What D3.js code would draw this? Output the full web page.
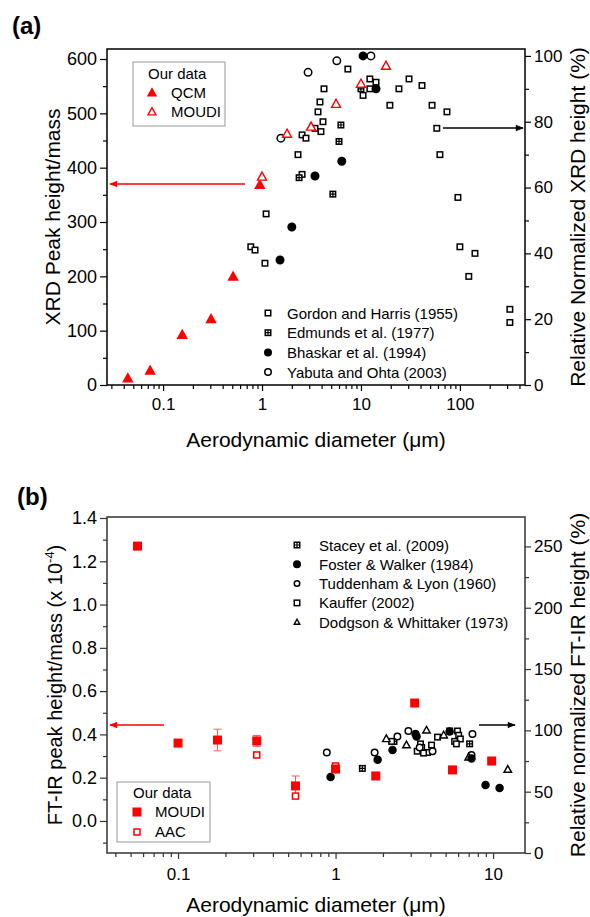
<!DOCTYPE html>
<html>
<head>
<meta charset="utf-8">
<script src="https://cdn.jsdelivr.net/npm/d3@7"></script>
<style>
body { margin: 0; background: #fff; }
text { font-family: Arial, "Liberation Sans", sans-serif; }
</style>
</head>
<body>
<div id="chart"></div>
<script>
// ---- panel (a) data: XRD ----
var qcmX = [0.044, 0.074, 0.156, 0.305, 0.51, 0.95];
var qcmY = [12, 26, 92, 121, 199, 368];
var moudiAX = [1.0, 1.79, 3.13, 5.6, 10, 17.9];
var moudiAY = [383, 462, 475, 517, 554, 587];

var gordon = [[1.10,52],[0.77,42],[0.85,41],[1.07,37],[2.31,70],[2.54,64],[2.54,76],[2.78,75],
  [3.43,78],[3.94,77],[4.13,80],[3.68,83],[3.85,86],[4.23,90],[7.37,96],[12.3,93],[14.2,92],
  [12.3,90],[10.5,88],[19.6,85],[24.2,90],[30.6,93],[41.4,91],[52.3,85],[74,83],[58.4,78],
  [62.8,70],[95.5,57],[100,42],[142,40],[123,33],[320,23],[320,19]];
var edmunds = [[2.37,63],[6.27,79],[6.0,74],[10,90],[5.2,58]];
var bhaskar = [[2.0,48],[1.52,38],[3.43,63.5],[6.4,68],[14.2,90],[10.5,100]];
var yabuta = [[1.55,75],[2.92,95],[5.7,98.5],[12.6,100]];

// ---- panel (b) data: FT-IR ----
var moudiBX = [0.0553, 0.1, 0.178, 0.316, 0.557, 1.0, 1.8, 3.18, 5.53, 9.8];
var moudiBY = [1.27, 0.36, 0.374, 0.37, 0.162, 0.24, 0.208, 0.545, 0.236, 0.277];
var moudiBErr = [0, 0, 0.05, 0.025, 0.046, 0, 0, 0, 0, 0];
var aacX = [0.316, 0.557, 1.0];
var aacY = [0.305, 0.115, 0.254];

var stacey = [[1.48,69],[2.35,91],[7.1,89]];
var foster = [[0.93,62],[1.85,76],[2.3,84],[3.27,95],[3.22,97],[5.3,99],[7.3,77],[8.96,55.5],[11.0,53]];
var tuddenham = [[0.88,82],[1.77,82],[2.47,95],[2.9,99.5],[4.13,83],[7.4,97],[7.3,80],[3.42,86]];
var kauffer = [[3.46,89],[3.52,86],[3.84,82],[4.07,88],[4.44,94.5],[5.3,99.5],[5.95,99.5],[6.05,96],
  [5.7,91],[6.2,93],[5.85,89],[3.3,83],[3.62,81.5],[2.27,91]];
var dodgson = [[2.1,93],[2.82,88],[3.78,100],[4.86,96],[7.0,78],[12.4,68]];

var ticksA = { left: [0,100,200,300,400,500,600], right: [0,20,40,60,80,100], x: [0.1,1,10,100] };
var ticksB = { left: [0,0.2,0.4,0.6,0.8,1.0,1.2,1.4], right: [0,50,100,150,200,250], x: [0.1,1,10] };

var red = '#ff0000';

var svg = d3.select('#chart').append('svg')
    .attr('width', 590)
    .attr('height', 917);

var defs = svg.append('defs');
function arrowDef(id, col) {
    defs.append('marker')
        .attr('id', id)
        .attr('viewBox', '0 0 10 10')
        .attr('refX', 9).attr('refY', 5)
        .attr('markerWidth', 10).attr('markerHeight', 8)
        .attr('markerUnits', 'userSpaceOnUse')
        .attr('orient', 'auto')
        .append('path').attr('d', 'M0,1 L10,5 L0,9 Z').attr('fill', col);
}
arrowDef('arRed', red);
arrowDef('arBlack', '#000');

function minorLog(domain) {
    var out = [];
    for (var k = -3; k <= 3; k++) {
        for (var m = 2; m <= 9; m++) {
            var v = m * Math.pow(10, k);
            if (v > domain[0] && v < domain[1]) out.push(v);
        }
    }
    return out;
}

function marker(g, type, x, y, col, size) {
    var s = size;
    if (type == 'square' || type == 'squareFill' || type == 'squareCross') {
        g.append('rect')
            .attr('x', x - s / 2).attr('y', y - s / 2)
            .attr('width', s).attr('height', s)
            .attr('fill', type == 'squareFill' ? col : '#fff')
            .attr('stroke', col).attr('stroke-width', 1.5);
        if (type == 'squareCross') {
            g.append('path')
                .attr('d', `M${x - s / 2},${y}H${x + s / 2}M${x},${y - s / 2}V${y + s / 2}`)
                .attr('stroke', col).attr('stroke-width', 1.2);
        }
    } else if (type == 'circle' || type == 'circleFill') {
        g.append('circle')
            .attr('cx', x).attr('cy', y).attr('r', s / 2)
            .attr('fill', type == 'circleFill' ? col : '#fff')
            .attr('stroke', col).attr('stroke-width', 1.5);
    } else if (type == 'tri' || type == 'triFill') {
        var h = s * 0.9;
        g.append('path')
            .attr('d', `M${x},${y - h * 0.6}L${x + s / 2},${y + h * 0.4}L${x - s / 2},${y + h * 0.4}Z`)
            .attr('fill', type == 'triFill' ? col : '#fff')
            .attr('stroke', col).attr('stroke-width', 1.4);
    }
}

function drawAxes(p) {
    var g = svg.append('g').attr('class', 'axes');
    var bottom = p.y0, top = p.y1, left = p.x0, right = p.x1;

    // left axis
    g.append('g').attr('transform', `translate(${left},0)`)
        .call(d3.axisLeft(p.yL).tickValues(p.ticks.left).tickFormat(p.fmtL).tickSize(7).tickPadding(3).tickSizeOuter(0))
        .call(a => a.selectAll('text').style('font-size', p.fsL + 'px'));
    g.append('g').attr('transform', `translate(${left},0)`)
        .call(d3.axisLeft(p.yL).tickValues(p.minorL).tickFormat('').tickSize(4).tickSizeOuter(0));

    // right axis
    g.append('g').attr('transform', `translate(${right},0)`)
        .call(d3.axisRight(p.yR).tickValues(p.ticks.right).tickSize(6).tickPadding(3).tickSizeOuter(0))
        .call(a => a.selectAll('text').style('font-size', p.fsR + 'px'));
    g.append('g').attr('transform', `translate(${right},0)`)
        .call(d3.axisRight(p.yR).tickValues(p.minorR).tickFormat('').tickSize(4).tickSizeOuter(0));

    // bottom log axis
    g.append('g').attr('transform', `translate(0,${bottom})`)
        .call(d3.axisBottom(p.x).tickValues(p.ticks.x).tickFormat(d => String(d)).tickSize(6).tickPadding(p.padX).tickSizeOuter(0))
        .call(a => a.selectAll('text').style('font-size', p.fsX + 'px'));
    g.append('g').attr('transform', `translate(0,${bottom})`)
        .call(d3.axisBottom(p.x).tickValues(minorLog(p.x.domain())).tickFormat('').tickSize(4).tickSizeOuter(0));

    g.selectAll('.domain').remove();
    g.selectAll('line').attr('stroke', p.col).attr('stroke-width', 1.2);
    g.selectAll('text').attr('fill', '#000');

    // frame
    g.append('rect')
        .attr('x', left).attr('y', top)
        .attr('width', right - left).attr('height', bottom - top)
        .attr('fill', 'none').attr('stroke', p.col).attr('stroke-width', 1.5);
}

function yTitle(x, y, txt, fs) {
    return svg.append('text')
        .attr('transform', `translate(${x},${y}) rotate(-90)`)
        .attr('text-anchor', 'middle')
        .style('font-size', fs + 'px')
        .text(txt);
}

// =================== panel (a) ===================
var xA = d3.scaleLog().domain([0.0271, 455]).range([107, 525]);
var yAL = d3.scaleLinear().domain([0, 618.4]).range([385, 49]);
var yAR = d3.scaleLinear().domain([0, 102.1]).range([385, 49]);

drawAxes({
    x0: 107, x1: 525, y0: 385, y1: 49, x: xA, yL: yAL, yR: yAR, ticks: ticksA,
    minorL: [50,150,250,350,450,550], minorR: [10,30,50,70,90],
    fmtL: d3.format('d'), fsL: 18, fsR: 17, fsX: 17, padX: 7, col: '#000'
});

svg.append('text').attr('x', 12).attr('y', 34)
    .style('font-size', '24px').style('font-weight', 'bold').text('(a)');

yTitle(60, 217, 'XRD Peak height/mass', 21);
yTitle(585, 217, 'Relative Normalized XRD height (%)', 21);
svg.append('text').attr('x', 316).attr('y', 447).attr('text-anchor', 'middle')
    .style('font-size', '21px').text('Aerodynamic diameter (μm)');

var gA = svg.append('g');
gordon.forEach(d => marker(gA, 'square', xA(d[0]), yAR(d[1]), '#000', 5.5));
edmunds.forEach(d => marker(gA, 'squareCross', xA(d[0]), yAR(d[1]), '#000', 5.5));
bhaskar.forEach(d => marker(gA, 'circleFill', xA(d[0]), yAR(d[1]), '#000', 7.5));
yabuta.forEach(d => marker(gA, 'circle', xA(d[0]), yAR(d[1]), '#000', 7.5));
qcmX.forEach((d, i) => marker(gA, 'triFill', xA(d), yAL(qcmY[i]), red, 9));
moudiAX.forEach((d, i) => marker(gA, 'tri', xA(d), yAL(moudiAY[i]), red, 9));

// arrows
svg.append('line').attr('x1', 245).attr('x2', 110).attr('y1', 184).attr('y2', 184)
    .attr('stroke', red).attr('stroke-width', 1.3).attr('marker-end', 'url(#arRed)');
svg.append('line').attr('x1', 443).attr('x2', 523).attr('y1', 128).attr('y2', 128)
    .attr('stroke', '#000').attr('stroke-width', 1.3).attr('marker-end', 'url(#arBlack)');

// legend: our data
var lgA = svg.append('g');
lgA.append('rect').attr('x', 133).attr('y', 62).attr('width', 92).attr('height', 64)
    .attr('fill', '#fff').attr('stroke', '#999').attr('stroke-width', 1);
lgA.append('text').attr('x', 148).attr('y', 79).style('font-size', '15px').text('Our data');
marker(lgA, 'triFill', 152, 93, red, 8);
lgA.append('text').attr('x', 171).attr('y', 98).style('font-size', '15px').text('QCM');
marker(lgA, 'tri', 152, 112, red, 8);
lgA.append('text').attr('x', 171).attr('y', 117).style('font-size', '15px').text('MOUDI');

// legend: literature
var litA = [['square', 'Gordon and Harris (1955)'], ['squareCross', 'Edmunds et al. (1977)'],
    ['circleFill', 'Bhaskar et al. (1994)'], ['circle', 'Yabuta and Ohta (2003)']];
var lgA2 = svg.append('g');
litA.forEach(function (d, i) {
    var y = 313 + i * 19.7;
    marker(lgA2, d[0], 268, y, '#000', d[0].indexOf('circle') == 0 ? 6.5 : 5.5);
    lgA2.append('text').attr('x', 287).attr('y', y + 5.5).style('font-size', '15px').text(d[1]);
});

// =================== panel (b) ===================
var xB = d3.scaleLog().domain([0.0354, 15.95]).range([107, 525]);
var yBL = d3.scaleLinear().domain([-0.148, 1.4046]).range([853, 517]);
var yBR = d3.scaleLinear().domain([0, 274]).range([853, 517]);

drawAxes({
    x0: 107, x1: 525, y0: 853, y1: 517, x: xB, yL: yBL, yR: yBR, ticks: ticksB,
    minorL: [-0.1,0.1,0.3,0.5,0.7,0.9,1.1,1.3], minorR: [25,75,125,175,225],
    fmtL: d3.format('.1f'), fsL: 18, fsR: 17, fsX: 17, padX: 9, col: '#333'
});

svg.append('text').attr('x', 17).attr('y', 505)
    .style('font-size', '24px').style('font-weight', 'bold').text('(b)');

var tB = yTitle(62, 685, '', 20);
tB.append('tspan').text('FT-IR peak height/mass (x 10');
tB.append('tspan').attr('dy', -8).style('font-size', '13px').text('-4');
tB.append('tspan').attr('dy', 8).text(')');
yTitle(585, 685, 'Relative normalized FT-IR height (%)', 21);
svg.append('text').attr('x', 316).attr('y', 912).attr('text-anchor', 'middle')
    .style('font-size', '21px').text('Aerodynamic diameter (μm)');

var gB = svg.append('g');
stacey.forEach(d => marker(gB, 'squareCross', xB(d[0]), yBR(d[1]), '#000', 5.5));
kauffer.forEach(d => marker(gB, 'square', xB(d[0]), yBR(d[1]), '#000', 5.5));
tuddenham.forEach(d => marker(gB, 'circle', xB(d[0]), yBR(d[1]), '#000', 6.5));
dodgson.forEach(d => marker(gB, 'tri', xB(d[0]), yBR(d[1]), '#000', 7.5));
foster.forEach(d => marker(gB, 'circleFill', xB(d[0]), yBR(d[1]), '#000', 7));

// error bars
moudiBX.forEach(function (d, i) {
    if (!moudiBErr[i]) return;
    var x = xB(d), y1 = yBL(moudiBY[i] + moudiBErr[i]), y2 = yBL(moudiBY[i] - moudiBErr[i]);
    gB.append('path')
        .attr('d', `M${x},${y1}V${y2}M${x - 4},${y1}H${x + 4}M${x - 4},${y2}H${x + 4}`)
        .attr('stroke', '#ff5a5a').attr('stroke-width', 1).attr('fill', 'none');
});
aacX.forEach((d, i) => marker(gB, 'square', xB(d), yBL(aacY[i]), red, 6));
moudiBX.forEach((d, i) => marker(gB, 'squareFill', xB(d), yBL(moudiBY[i]), red, 7.5));

// arrows
svg.append('line').attr('x1', 164).attr('x2', 110).attr('y1', 725).attr('y2', 725)
    .attr('stroke', red).attr('stroke-width', 1.3).attr('marker-end', 'url(#arRed)');
svg.append('line').attr('x1', 479).attr('x2', 515).attr('y1', 725).attr('y2', 725)
    .attr('stroke', '#000').attr('stroke-width', 1.3).attr('marker-end', 'url(#arBlack)');

// legend: literature
var litB = [['squareCross', 'Stacey et al. (2009)'], ['circleFill', 'Foster & Walker (1984)'],
    ['circle', 'Tuddenham & Lyon (1960)'], ['square', 'Kauffer (2002)'], ['tri', 'Dodgson & Whittaker (1973)']];
var lgB = svg.append('g');
litB.forEach(function (d, i) {
    var y = 545 + i * 19.3;
    marker(lgB, d[0], 297, y, '#000', d[0] == 'circleFill' ? 6.5 : 5.5);
    lgB.append('text').attr('x', 319).attr('y', y + 5.5).style('font-size', '15px').text(d[1]);
});

// legend: our data
var lgB2 = svg.append('g');
lgB2.append('rect').attr('x', 117).attr('y', 782).attr('width', 93).attr('height', 60)
    .attr('fill', '#fff').attr('stroke', '#999').attr('stroke-width', 1);
lgB2.append('text').attr('x', 133).attr('y', 798).style('font-size', '15px').text('Our data');
marker(lgB2, 'squareFill', 137, 812, red, 7.5);
lgB2.append('text').attr('x', 155).attr('y', 817).style('font-size', '15px').text('MOUDI');
marker(lgB2, 'square', 137, 832, red, 6);
lgB2.append('text').attr('x', 155).attr('y', 837).style('font-size', '15px').text('AAC');
</script>
</body>
</html>
